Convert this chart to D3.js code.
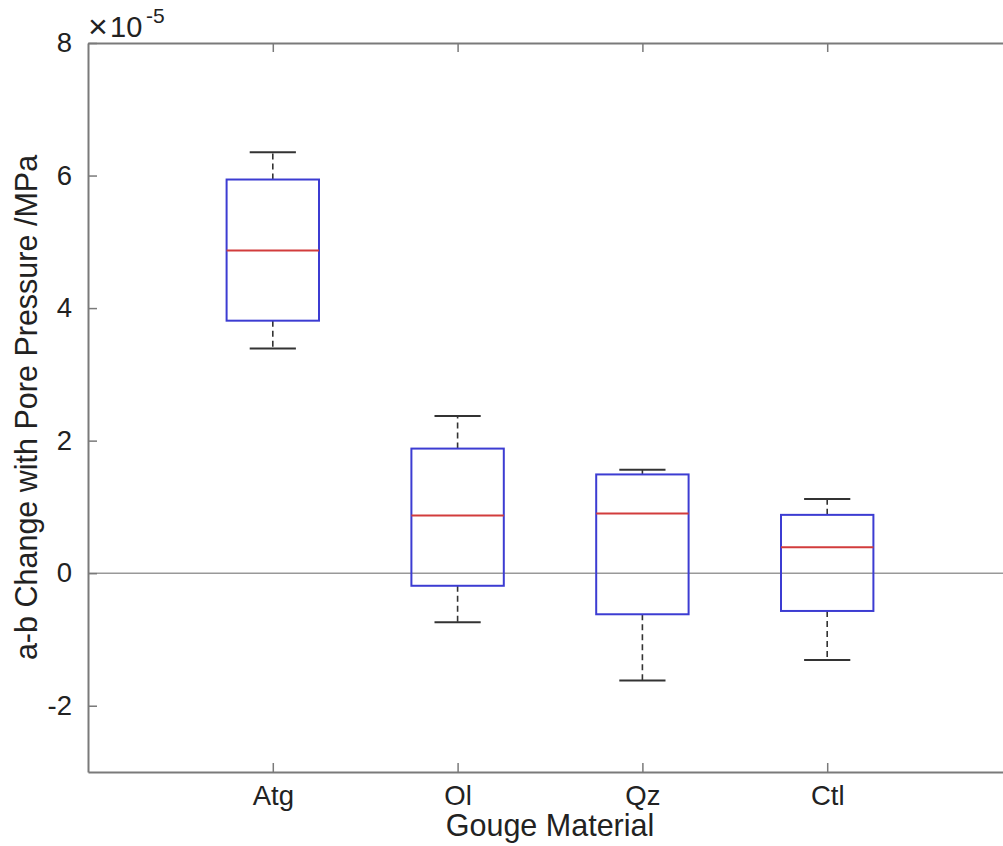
<!DOCTYPE html>
<html>
<head>
<meta charset="utf-8">
<script src="https://cdn.jsdelivr.net/npm/d3@7"></script>
<style>
  html, body { margin: 0; padding: 0; background: #fff; }
  svg { display: block; font-family: "Liberation Sans", Arial, Helvetica, sans-serif; }
</style>
</head>
<body>
<svg id="chart" width="1003" height="846"></svg>
<script>
// Data (values in units of 1e-5)
const categories = ["Atg", "Ol", "Qz", "Ctl"];
const whiskerHigh = [6.35, 2.37, 1.56, 1.12];
const q3 = [5.94, 1.88, 1.49, 0.88];
const medians = [4.87, 0.87, 0.90, 0.39];
const q1 = [3.81, -0.19, -0.62, -0.57];
const whiskerLow = [3.39, -0.74, -1.62, -1.31];
const yTicks = [-2, 0, 2, 4, 6, 8];

(function () {
const svg = d3.select("#chart");
const mLeft = 88, mRight = 1012, mTop = 43, mBottom = 772;

const x = d3.scaleLinear().domain([0, 5]).range([mLeft, mRight]);
const y = d3.scaleLinear().domain([-3, 8]).range([mBottom, mTop]);

const axisColor = "#7a7a7a";
const data = categories.map((c, i) => ({
  c, pos: i + 1, hi: whiskerHigh[i], q3: q3[i], med: medians[i], q1: q1[i], lo: whiskerLow[i]
}));

// zero line
svg.append("line")
  .attr("x1", x(0)).attr("x2", x(5))
  .attr("y1", y(0)).attr("y2", y(0))
  .attr("stroke", "#999").attr("stroke-width", 1.5);

const g = svg.append("g");
const boxW = 0.25, capW = 0.125;

data.forEach(d => {
  g.append("line").attr("x1", x(d.pos)).attr("x2", x(d.pos))
    .attr("y1", y(d.q3)).attr("y2", y(d.hi))
    .attr("stroke", "#333").attr("stroke-width", 1.6).attr("stroke-dasharray", "6,4");
  g.append("line").attr("x1", x(d.pos)).attr("x2", x(d.pos))
    .attr("y1", y(d.q1)).attr("y2", y(d.lo))
    .attr("stroke", "#333").attr("stroke-width", 1.6).attr("stroke-dasharray", "6,4");
  [d.hi, d.lo].forEach(v => {
    g.append("line").attr("x1", x(d.pos - capW)).attr("x2", x(d.pos + capW))
      .attr("y1", y(v)).attr("y2", y(v))
      .attr("stroke", "#333").attr("stroke-width", 2);
  });
  g.append("rect")
    .attr("x", x(d.pos - boxW)).attr("width", x(d.pos + boxW) - x(d.pos - boxW))
    .attr("y", y(d.q3)).attr("height", y(d.q1) - y(d.q3))
    .attr("fill", "none").attr("stroke", "#3c3cd2").attr("stroke-width", 2);
  g.append("line").attr("x1", x(d.pos - boxW)).attr("x2", x(d.pos + boxW))
    .attr("y1", y(d.med)).attr("y2", y(d.med))
    .attr("stroke", "#d23c3c").attr("stroke-width", 2);
});

const tickFont = "27.5px";
const yAxisL = d3.axisLeft(y).tickValues(yTicks).tickSize(-9).tickSizeOuter(0).tickPadding(16).tickFormat(d => String(d));
const yAxisR = d3.axisRight(y).tickValues(yTicks).tickSize(-9).tickSizeOuter(0).tickFormat("");
const xAxisB = d3.axisBottom(x).tickValues([1, 2, 3, 4]).tickSize(-9).tickSizeOuter(0).tickPadding(13).tickFormat(d => categories[d - 1]);
const xAxisT = d3.axisTop(x).tickValues([1, 2, 3, 4]).tickSize(-9).tickSizeOuter(0).tickFormat("");

function style(sel) {
  sel.attr("font-family", null).attr("font-size", null);
  sel.selectAll("path").attr("stroke", axisColor).attr("stroke-width", 2);
  sel.selectAll("line").attr("stroke", axisColor).attr("stroke-width", 1.5);
  sel.selectAll("text").attr("fill", "#222").style("font-size", tickFont);
}
style(svg.append("g").attr("transform", `translate(${mLeft},0)`).call(yAxisL));
style(svg.append("g").attr("transform", `translate(${mRight},0)`).call(yAxisR));
style(svg.append("g").attr("transform", `translate(0,${mBottom})`).call(xAxisB));
style(svg.append("g").attr("transform", `translate(0,${mTop})`).call(xAxisT));

// exponent label
svg.append("text").attr("x", 88).attr("y", 38).attr("fill", "#222")
  .style("font-size", "34px").text("\u00D7");
svg.append("text").attr("x", 110).attr("y", 37).attr("fill", "#222")
  .style("font-size", "29px").text("10");
svg.append("text").attr("x", 146).attr("y", 23).attr("fill", "#222")
  .style("font-size", "21px").text("-5");

// axis labels
svg.append("text").attr("x", (mLeft + mRight) / 2).attr("y", 836)
  .attr("text-anchor", "middle").style("font-size", "30.5px").attr("fill", "#222")
  .text("Gouge Material");
svg.append("text")
  .attr("transform", `translate(37,${(mTop + mBottom) / 2}) rotate(-90)`)
  .attr("text-anchor", "middle").style("font-size", "30.5px").attr("fill", "#222")
  .text("a-b Change with Pore Pressure /MPa");
})();
</script>
</body>
</html>
